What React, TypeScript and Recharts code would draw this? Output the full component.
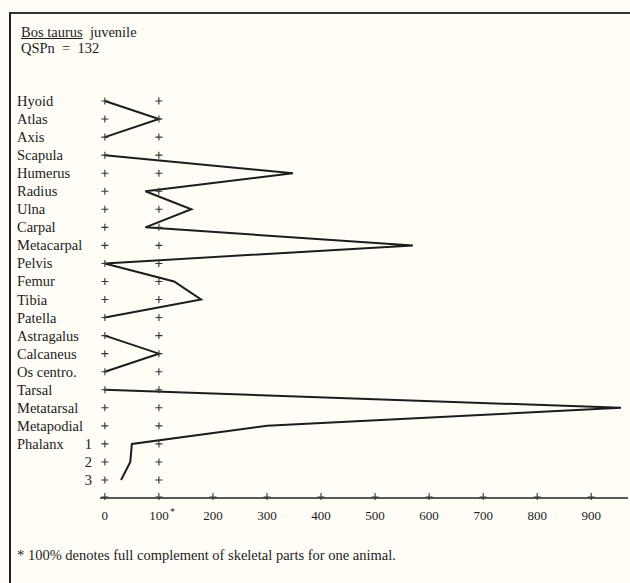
import React from "react"
import { LineChart, Line, XAxis, YAxis } from "recharts"

// skeletal parts, top to bottom
const PARTS = [
  "Hyoid", "Atlas", "Axis", "Scapula", "Humerus", "Radius", "Ulna", "Carpal",
  "Metacarpal", "Pelvis", "Femur", "Tibia", "Patella", "Astragalus", "Calcaneus",
  "Os centro.", "Tarsal", "Metatarsal", "Metapodial", "Phalanx 1", "2", "3",
]

// % of a full complement
const PCT = [0, 100, 0, 0, 348, 75, 160, 75, 570, 0, 128, 178, 0, 0, 100, 0, 0, 955, 300, 50, 47, 30]

// the profile is drawn as separate runs (no joins along the zero column)
const SEGMENT = [0, 0, 0, 1, 1, 1, 1, 1, 1, 1, 1, 1, 1, 2, 2, 2, 3, 3, 3, 3, 3, 3]

const X_TICKS = [0, 100, 200, 300, 400, 500, 600, 700, 800, 900]
const REF_COLS = [0, 100]

const FONT = "'Liberation Serif', 'DejaVu Serif', serif"
const INK = "#1c1c1c"

const segKeys = Array.from(new Set(SEGMENT)).map(s => "seg" + s)

const data = PARTS.map((part, i) => {
  const row: any = { part }
  REF_COLS.forEach(c => { row["ref" + c] = c })
  row["seg" + SEGMENT[i]] = PCT[i]
  return row
})

const PlusDot = (props: any) => {
  const { cx, cy } = props
  if (cx == null || cy == null) return null
  return (
    <path
      d={`M${cx - 3.5},${cy}H${cx + 3.5}M${cx},${cy - 3.5}V${cy + 3.5}`}
      stroke="#333"
      strokeWidth={1.1}
      fill="none"
    />
  )
}

const XTick = (props: any) => {
  const { x, y, payload } = props
  const v = payload.value
  return (
    <g>
      <path d={`M${x - 3.5},${y - 3}H${x + 3.5}M${x},${y - 7}V${y}`} stroke="#333" strokeWidth={1.1} />
      <text x={x} y={y + 20} textAnchor="middle" fontFamily={FONT} fontSize={13} fill={INK}>
        {v}
      </text>
      {v === 100 && (
        <text x={x + 11} y={y + 15} fontFamily={FONT} fontSize={10} fill={INK}>*</text>
      )}
    </g>
  )
}

const YTick = (props: any) => {
  const { y, payload } = props
  const label: string = payload.value
  const common = { fontFamily: FONT, fontSize: 14.5, fill: INK, y: y + 5 }
  if (label.startsWith("Phalanx")) {
    const [name, num] = label.split(" ")
    return (
      <g>
        <text {...common} x={17}>{name}</text>
        <text {...common} x={92} textAnchor="end">{num}</text>
      </g>
    )
  }
  if (/^\d+$/.test(label)) {
    return <text {...common} x={92} textAnchor="end">{label}</text>
  }
  return <text {...common} x={17}>{label}</text>
}

export default function App() {
  return (
    <div style={{ position: "absolute", left: 0, top: 0, width: 630, height: 583, background: "#fffdf6", overflow: "hidden" }}>
      {/* frame */}
      <div style={{ position: "absolute", left: 9, top: 12, width: 640, height: 600, borderLeft: "2px solid #222", borderTop: "2px solid #333" }} />
      <div style={{ position: "absolute", left: 21, top: 24, fontFamily: FONT, fontSize: 14.5, color: INK, lineHeight: "16px" }}>
        <span style={{ textDecoration: "underline" }}>Bos taurus</span>
        <span>{"\u00a0\u00a0juvenile"}</span>
        <div>{"QSPn\u00a0\u00a0=\u00a0\u00a0132"}</div>
      </div>
      <LineChart
        width={630}
        height={583}
        data={data}
        layout="vertical"
        margin={{ top: 101, right: 2, bottom: 55, left: 0 }}
        style={{ position: "absolute", left: 0, top: 0 }}
      >
        <XAxis
          type="number"
          domain={[-9, 968]}
          ticks={X_TICKS}
          interval={0}
          allowDataOverflow
          axisLine={{ stroke: "#222", strokeWidth: 1.5 }}
          tickLine={false}
          tickSize={0}
          tick={<XTick />}
          height={30}
        />
        <YAxis
          type="category"
          dataKey="part"
          width={100}
          interval={0}
          axisLine={false}
          tickLine={false}
          tick={<YTick />}
          padding={{ top: 0, bottom: 18 }}
        />
        {REF_COLS.map(c => (
          <Line
            key={"ref" + c}
            dataKey={"ref" + c}
            stroke="none"
            dot={<PlusDot />}
            isAnimationActive={false}
          />
        ))}
        {segKeys.map(k => (
          <Line
            key={k}
            dataKey={k}
            stroke={INK}
            strokeWidth={2}
            dot={false}
            connectNulls={false}
            isAnimationActive={false}
          />
        ))}
      </LineChart>
      <div style={{ position: "absolute", left: 17, top: 547, fontFamily: FONT, fontSize: 14.5, color: INK, lineHeight: "16px" }}>
        * 100% denotes full complement of skeletal parts for one animal.
      </div>
    </div>
  )
}
